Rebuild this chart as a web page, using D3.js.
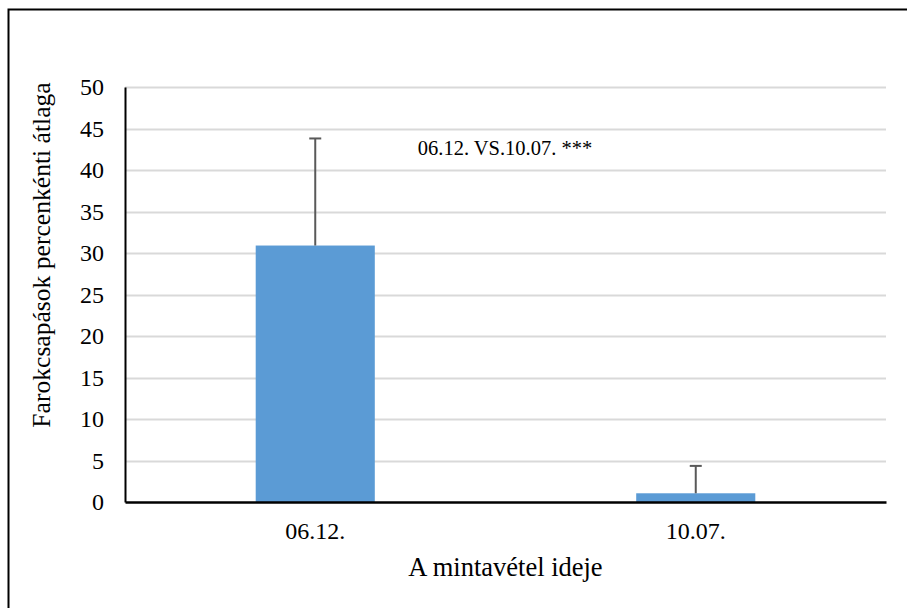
<!DOCTYPE html>
<html><head><meta charset="utf-8">
<script src="https://cdn.jsdelivr.net/npm/d3@7"></script>
<style>body{margin:0;background:#fff}svg{display:block}</style>
</head><body>
<script>
const categories = ["06.12.", "10.07."];
const means = [30.9, 1.05];
const errors = [12.9, 3.3];
const yTicks = [0, 5, 10, 15, 20, 25, 30, 35, 40, 45, 50];
const yTitle = "Farokcsapások percenkénti átlaga";
const xTitle = "A mintavétel ideje";
const annotation = "06.12. VS.10.07. ***";

const FF = "'Liberation Serif', 'Times New Roman', Tinos, serif";

const W = 907, H = 608;
const m = {left: 125, right: 21, top: 87, bottom: 106};
const svg = d3.select("body").append("svg").attr("width", W).attr("height", H)
  .style("font-family", FF);
svg.append("rect").attr("x", 8.5).attr("y", 9.5).attr("width", W).attr("height", H)
  .attr("fill", "none").attr("stroke", "#000").attr("stroke-width", 2);

const x = d3.scaleBand().domain(categories).range([m.left, W - m.right]);
const y = d3.scaleLinear().domain([0, 50]).range([H - m.bottom, m.top]);
const bw = x.bandwidth() * 0.313;

svg.append("g").selectAll("line").data(yTicks.filter(d => d > 0)).join("line")
  .attr("x1", m.left).attr("x2", W - m.right)
  .attr("y1", d => Math.round(y(d)) + 0.5).attr("y2", d => Math.round(y(d)) + 0.5)
  .attr("stroke", "#d9d9d9").attr("stroke-width", 2);

svg.append("g").selectAll("rect").data(categories).join("rect")
  .attr("x", d => x(d) + x.bandwidth() / 2 - bw / 2).attr("width", bw)
  .attr("y", (d, i) => y(means[i])).attr("height", (d, i) => y(0) - y(means[i]))
  .attr("fill", "#5b9bd5");

const eb = svg.append("g").attr("stroke", "#595959").attr("stroke-width", 2);
categories.forEach((c, i) => {
  const cx = x(c) + x.bandwidth() / 2;
  eb.append("line").attr("x1", cx).attr("x2", cx).attr("y1", y(means[i])).attr("y2", y(means[i] + errors[i]));
  eb.append("line").attr("x1", cx - 6).attr("x2", cx + 6).attr("y1", y(means[i] + errors[i])).attr("y2", y(means[i] + errors[i]));
});

const yAxis = d3.axisLeft(y).tickValues(yTicks).tickSize(0).tickPadding(21);
const gy = svg.append("g").attr("transform", `translate(${m.left},0)`).call(yAxis);
gy.attr("font-family", FF).attr("font-size", 24);
gy.select(".domain").attr("stroke", "#000").attr("stroke-width", 2);
gy.selectAll("text").attr("fill", "#000");

const xAxis = d3.axisBottom(x).tickSize(0).tickPadding(20);
const gx = svg.append("g").attr("transform", `translate(0,${H - m.bottom})`).call(xAxis);
gx.attr("font-family", FF).attr("font-size", 24);
gx.select(".domain").attr("stroke", "#000").attr("stroke-width", 2.5);
gx.selectAll("text").attr("fill", "#000");

svg.append("text").attr("transform", `translate(50,255) rotate(-90)`)
  .attr("text-anchor", "middle").attr("font-size", 25.6).text(yTitle);
svg.append("text").attr("x", (m.left + W - m.right) / 2).attr("y", 576)
  .attr("text-anchor", "middle").attr("font-size", 26.5).text(xTitle);
svg.append("text").attr("x", 505).attr("y", 155)
  .attr("text-anchor", "middle").attr("font-size", 20.5).text(annotation);
</script>
</body></html>
